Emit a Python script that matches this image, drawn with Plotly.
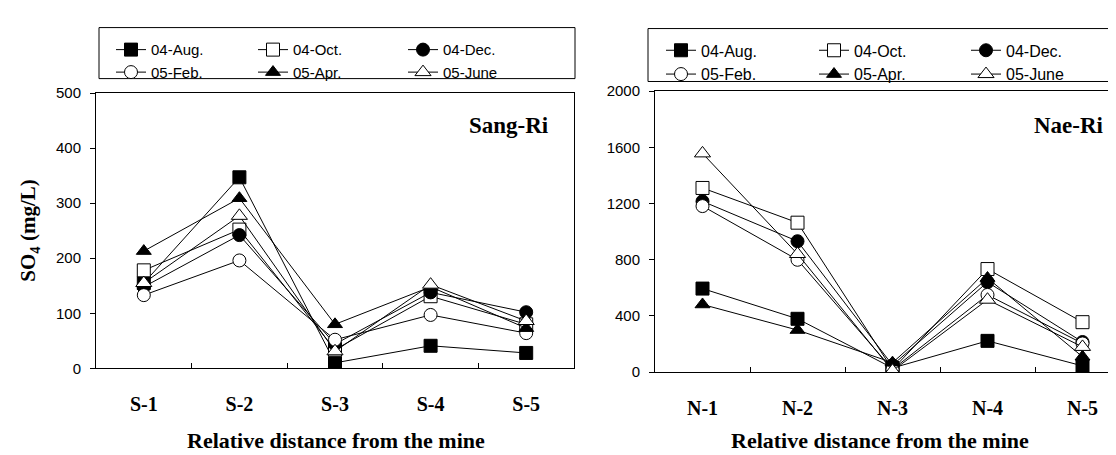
import plotly.graph_objects as go

# ---------------- data ----------------
s_sites = ["S-1", "S-2", "S-3", "S-4", "S-5"]
n_sites = ["N-1", "N-2", "N-3", "N-4", "N-5"]
series_names = ["04-Aug.", "04-Oct.", "04-Dec.", "05-Feb.", "05-Apr.", "05-June"]

sang_aug = [155, 347, 10, 41, 28]
sang_oct = [178, 252, 34, 131, 80]
sang_dec = [148, 242, 44, 138, 102]
sang_feb = [133, 196, 52, 97, 64]
sang_apr = [213, 309, 80, 148, 73]
sang_jun = [155, 277, 31, 152, 86]

nae_aug = [595, 380, 30, 223, 45]
nae_oct = [1311, 1064, 20, 734, 356]
nae_dec = [1216, 932, 50, 641, 215]
nae_feb = [1182, 800, 20, 550, 205]
nae_apr = [482, 300, 68, 670, 110]
nae_jun = [1557, 841, 10, 516, 180]

sang = [sang_aug, sang_oct, sang_dec, sang_feb, sang_apr, sang_jun]
nae = [nae_aug, nae_oct, nae_dec, nae_feb, nae_apr, nae_jun]

# ---------------- styles ----------------
symbols = ["square", "square", "circle", "circle", "triangle-up", "triangle-up"]
fills = ["black", "white", "black", "white", "black", "white"]
sizes = [13, 13, 13, 13, 13, 14]
left_legends = ["legend", "legend2", "legend3", "legend", "legend2", "legend3"]
right_legends = ["legend4", "legend5", "legend6", "legend4", "legend5", "legend6"]

W, H = 1116, 455
def px_x(p):
    return p / W
def px_y(p):
    return 1 - p / H

fig = go.Figure()

for i, name in enumerate(series_names):
    marker = dict(symbol=symbols[i], size=sizes[i], color=fills[i], line=dict(color="black", width=1))
    fig.add_trace(go.Scatter(
        x=s_sites, y=sang[i], name=name, mode="lines+markers",
        line=dict(color="black", width=1), marker=marker,
        xaxis="x", yaxis="y", legend=left_legends[i]))
for i, name in enumerate(series_names):
    marker = dict(symbol=symbols[i], size=sizes[i], color=fills[i], line=dict(color="black", width=1))
    fig.add_trace(go.Scatter(
        x=n_sites, y=nae[i], name=name, mode="lines+markers",
        line=dict(color="black", width=1), marker=marker,
        xaxis="x2", yaxis="y2", legend=right_legends[i]))

tickfont_y = dict(family="Liberation Sans", size=15, color="black")
tickfont_x = dict(family="Liberation Serif", size=20, color="black", weight="bold")


def make_legend(xpx, ypx, fsize):
    return dict(orientation="v", traceorder="normal", x=px_x(xpx), y=px_y(ypx),
                xanchor="left", yanchor="top", bgcolor="rgba(0,0,0,0)", borderwidth=0,
                itemwidth=30,
                font=dict(family="Liberation Sans", size=fsize, color="black"))


fig.update_layout(
    width=W, height=H,
    margin=dict(l=0, r=0, t=0, b=0),
    paper_bgcolor="white", plot_bgcolor="white",
    showlegend=True,
    xaxis=dict(domain=[px_x(88), px_x(566)], type="category", range=[-0.5, 4.5],
               showline=True, linecolor="black", linewidth=1, mirror=True,
               ticks="inside", ticklen=5, tickcolor="black", tickson="boundaries",
               showgrid=False, zeroline=False, tickfont=tickfont_x, ticklabelstandoff=18),
    yaxis=dict(domain=[1 - 365 / H, 1 - 79 / H], range=[0, 500], dtick=100,
               showline=True, linecolor="black", linewidth=1, mirror=True,
               ticks="outside", ticklen=5, tickcolor="black",
               showgrid=False, zeroline=False, tickfont=tickfont_y, ticklabelstandoff=6),
    xaxis2=dict(domain=[px_x(647), 1.0], type="category",
                range=[-0.5, -0.5 + (W - 647) / 95.0],
                showline=True, linecolor="black", linewidth=1, mirror=True,
                ticks="inside", ticklen=5, tickcolor="black", tickson="boundaries",
                showgrid=False, zeroline=False, tickfont=tickfont_x, ticklabelstandoff=18,
                anchor="y2"),
    yaxis2=dict(domain=[1 - 369 / H, 1 - 77 / H], range=[0, 2000], dtick=400,
                showline=True, linecolor="black", linewidth=1, mirror=False,
                ticks="outside", ticklen=5, tickcolor="black",
                showgrid=False, zeroline=False, tickfont=tickfont_y, ticklabelstandoff=6,
                anchor="x2"),
    legend=make_legend(103, 17, 15),
    legend2=make_legend(245, 17, 15),
    legend3=make_legend(395, 17, 15),
    legend4=make_legend(653, 17, 16),
    legend5=make_legend(806, 17, 16),
    legend6=make_legend(958, 17, 16),
    shapes=[
        dict(type="rect", xref="paper", yref="paper", x0=px_x(91), x1=px_x(567),
             y0=px_y(64), y1=px_y(11), line=dict(color="black", width=1)),
        dict(type="rect", xref="paper", yref="paper", x0=px_x(640), x1=px_x(1130),
             y0=px_y(67), y1=px_y(12), line=dict(color="black", width=1)),
    ],
    annotations=[
        dict(text="Sang-Ri", xref="paper", yref="paper", x=px_x(543), y=px_y(113),
             xanchor="right", yanchor="middle", showarrow=False,
             font=dict(family="Liberation Serif", size=23, color="black", weight="bold")),
        dict(text="Nae-Ri", xref="paper", yref="paper", x=px_x(1098), y=px_y(113),
             xanchor="right", yanchor="middle", showarrow=False,
             font=dict(family="Liberation Serif", size=23, color="black", weight="bold")),
        dict(text="SO<sub>4</sub> (mg/L)", xref="paper", yref="paper", x=px_x(21), y=px_y(222),
             xanchor="center", yanchor="middle", showarrow=False, textangle=-90,
             font=dict(family="Liberation Serif", size=21, color="black", weight="bold")),
        dict(text="Relative distance from the mine", xref="paper", yref="paper",
             x=px_x(328), y=px_y(440), xanchor="center", yanchor="middle", showarrow=False,
             font=dict(family="Liberation Serif", size=22, color="black", weight="bold")),
        dict(text="Relative distance from the mine", xref="paper", yref="paper",
             x=px_x(872), y=px_y(440), xanchor="center", yanchor="middle", showarrow=False,
             font=dict(family="Liberation Serif", size=22, color="black", weight="bold")),
    ],
)

fig.write_html("out.html")
